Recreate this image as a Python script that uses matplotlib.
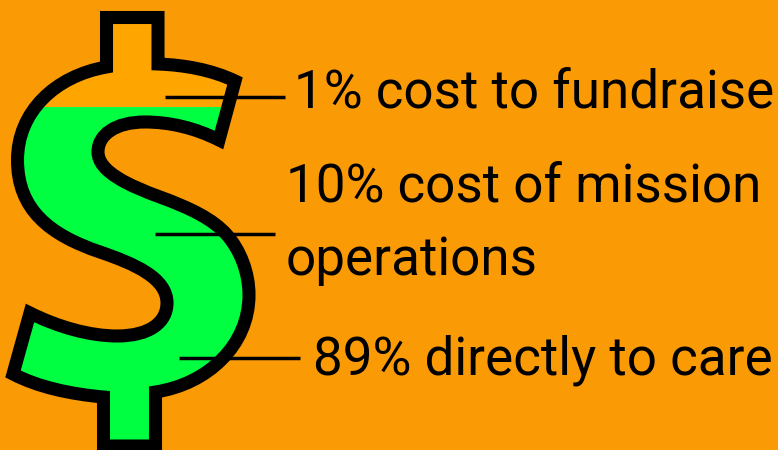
import matplotlib
matplotlib.use('Agg')
import matplotlib.pyplot as plt
from matplotlib.patches import PathPatch, Rectangle
from matplotlib.path import Path

plt.rcParams['font.family'] = ['Roboto', 'DejaVu Sans']

# share of each dollar
shares = [1, 10, 89]
labels = ['1% cost to fundraise', '10% cost of mission\noperations', '89% directly to care']

# dollar sign outline in picture pixels: (code, points)
outline = [
    (Path.MOVETO, [(106.5, 17.5)]),
    (Path.LINETO, [(158, 17.5)]),
    (Path.LINETO, [(158, 64)]),
    (Path.CURVE4, [(185, 65), (212, 70), (235, 81)]),
    (Path.LINETO, [(219, 140)]),
    (Path.CURVE4, [(195, 128), (170, 122), (145, 122)]),
    (Path.CURVE4, [(115, 122), (98, 135), (98, 152)]),
    (Path.CURVE4, [(98, 172), (130, 186), (160, 197)]),
    (Path.CURVE4, [(190, 208), (213, 219), (227, 235)]),
    (Path.CURVE4, [(240, 250), (249, 272), (249, 295)]),
    (Path.CURVE4, [(249, 345), (208, 384), (155.5, 392)]),
    (Path.LINETO, [(155.5, 446)]),
    (Path.LINETO, [(103.5, 446)]),
    (Path.LINETO, [(103.5, 397)]),
    (Path.CURVE4, [(70, 394), (38, 387), (13, 374)]),
    (Path.LINETO, [(30, 313)]),
    (Path.CURVE4, [(58, 327), (90, 336), (117, 336)]),
    (Path.CURVE4, [(150, 336), (167, 322), (167, 303)]),
    (Path.CURVE4, [(167, 278), (135, 264), (100, 252)]),
    (Path.CURVE4, [(50, 235), (17.5, 210), (17.5, 160)]),
    (Path.CURVE4, [(17.5, 112), (55, 76), (106.5, 67)]),
    (Path.CLOSEPOLY, [(106.5, 17.5)]),
]

codes = []
verts = []
for code, pts in outline:
    for p in pts:
        codes.append(code)
        verts.append(p)

bg = '#fa9a05'
fig = plt.figure(figsize=(7.78, 4.5), dpi=100, facecolor=bg)
ax = fig.add_axes([0, 0, 1, 1])
ax.set_xlim(0, 778)
ax.set_ylim(450, 0)
ax.axis('off')

dollar = Path(verts, codes)
shape = PathPatch(dollar, facecolor='none', edgecolor='k', linewidth=9.4, joinstyle='miter', zorder=3)
ax.add_patch(shape)

# fill level
top_part = Rectangle((0, 0), 778, 107, facecolor='#ffa500', edgecolor='none', zorder=1)
low_part = Rectangle((0, 107), 778, 343, facecolor='#00ff41', edgecolor='none', zorder=1)
ax.add_patch(top_part)
ax.add_patch(low_part)
top_part.set_clip_path(shape)
low_part.set_clip_path(shape)

# leader lines
ax.plot([165, 285], [97, 97], c='k', linewidth=2.5, solid_capstyle='butt', zorder=4)
ax.plot([155, 275], [234, 234], c='k', linewidth=2.5, solid_capstyle='butt', zorder=4)
ax.plot([179, 300], [358, 358], c='k', linewidth=2.5, solid_capstyle='butt', zorder=4)

first, second = labels[1].split('\n')
ax.text(294, 107, labels[0], fontsize=38.2, va='baseline', ha='left', color='k')
ax.text(286, 202, first, fontsize=38.2, va='baseline', ha='left', color='k')
ax.text(286, 275, second, fontsize=38.2, va='baseline', ha='left', color='k')
ax.text(313, 375, labels[2], fontsize=38.2, va='baseline', ha='left', color='k')

fig.savefig('out.png', dpi=100, facecolor=bg)
